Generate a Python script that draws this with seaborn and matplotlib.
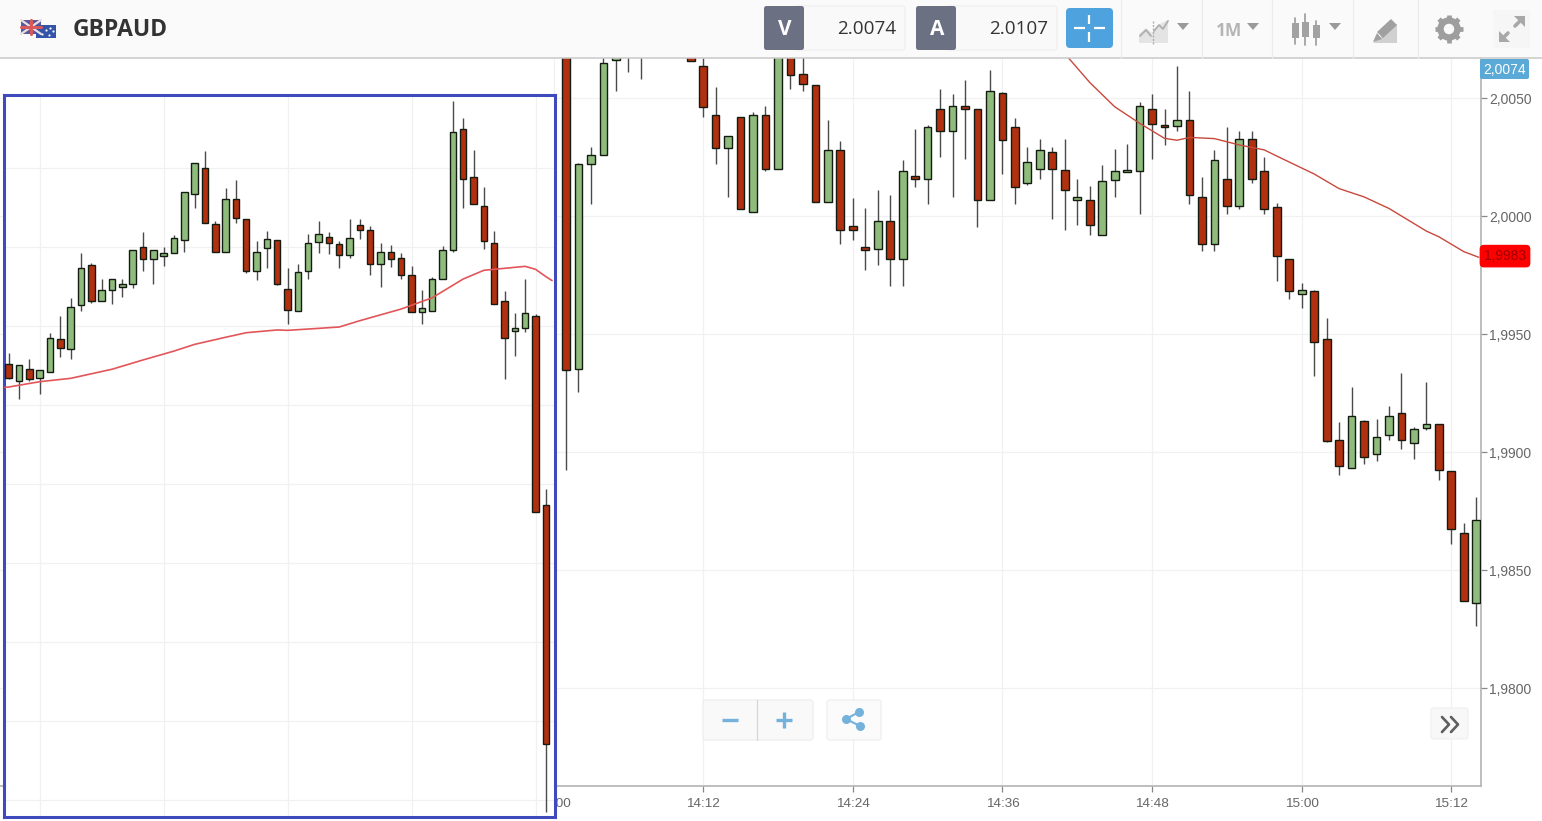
import numpy as np
import pandas as pd
import matplotlib
matplotlib.use("Agg")
import matplotlib.pyplot as plt
import seaborn as sns
from matplotlib.patches import FancyBboxPatch, Rectangle, Polygon, Circle

# left panel: one minute candles, 53 of them
left_open = [2.00208, 2.00123, 2.00181, 2.00137, 2.00167, 2.00336, 2.00282, 2.00505, 2.00707, 2.00528,
             2.00581, 2.00599, 2.00613, 2.00802, 2.00738, 2.00756, 2.00768, 2.00834, 2.01067, 2.01200,
             2.00916, 2.00775, 2.01041, 2.00942, 2.00680, 2.00793, 2.00834, 2.00587, 2.00478, 2.00680,
             2.00827, 2.00852, 2.00815, 2.00761, 2.00910, 2.00884, 2.00712, 2.00776, 2.00746, 2.00658,
             2.00473, 2.00478, 2.00636, 2.00786, 2.01396, 2.01156, 2.01009, 2.00822, 2.00525, 2.00376,
             2.00390, 2.00449, 1.99494]
left_high = [2.00262, 2.00201, 2.00231, 2.00177, 2.00363, 2.00452, 2.00540, 2.00768, 2.00721, 2.00636,
             2.00640, 2.00636, 2.00783, 2.00876, 2.00783, 2.00798, 2.00862, 2.01080, 2.01225, 2.01286,
             2.00933, 2.01097, 2.01141, 2.00942, 2.00832, 2.00883, 2.00837, 2.00692, 2.00712, 2.00864,
             2.00933, 2.00876, 2.00832, 2.00940, 2.00940, 2.00908, 2.00819, 2.00808, 2.00768, 2.00705,
             2.00581, 2.00650, 2.00807, 2.01539, 2.01451, 2.01293, 2.01102, 2.00883, 2.00579, 2.00466,
             2.00636, 2.00459, 1.99575]
left_low = [2.00133, 2.00030, 2.00122, 2.00056, 2.00167, 2.00245, 2.00233, 2.00474, 2.00515, 2.00528,
            2.00511, 2.00549, 2.00592, 2.00680, 2.00613, 2.00705, 2.00768, 2.00775, 2.00997, 2.00921,
            2.00775, 2.00775, 2.00921, 2.00667, 2.00631, 2.00694, 2.00606, 2.00410, 2.00478, 2.00638,
            2.00770, 2.00765, 2.00694, 2.00746, 2.00840, 2.00657, 2.00599, 2.00700, 2.00638, 2.00473,
            2.00410, 2.00478, 2.00636, 2.00776, 2.00997, 2.01016, 2.00788, 2.00511, 2.00132, 2.00250,
            2.00371, 1.99458, 1.97939]
left_close = [2.00138, 2.00201, 2.00130, 2.00177, 2.00341, 2.00289, 2.00498, 2.00694, 2.00528, 2.00582,
              2.00640, 2.00614, 2.00783, 2.00738, 2.00783, 2.00771, 2.00847, 2.01080, 2.01225, 2.00921,
              2.00775, 2.01041, 2.00947, 2.00680, 2.00776, 2.00840, 2.00611, 2.00479, 2.00675, 2.00822,
              2.00866, 2.00820, 2.00761, 2.00847, 2.00888, 2.00712, 2.00776, 2.00738, 2.00657, 2.00473,
              2.00493, 2.00640, 2.00783, 2.01384, 2.01143, 2.01019, 2.00832, 2.00511, 2.00339, 2.00392,
              2.00467, 1.99458, 1.98284]
left_ma_idx = [-0.4, 0, 3, 6, 10, 13, 16, 18, 21, 23, 26, 27, 30, 32, 34, 38, 41, 44, 46, 48, 50, 51, 52, 52.6]
left_ma = [2.00089, 2.00091, 2.00118, 2.00135, 2.00181, 2.00228, 2.00273, 2.00307, 2.00343, 2.00366, 2.00380,
           2.00378, 2.00388, 2.00395, 2.00427, 2.00486, 2.00543, 2.00638, 2.00682, 2.00692, 2.00702, 2.00687,
           2.00650, 2.00630]

# main panel: minutes after 14:01, 74 candles (the first few run off behind the header)
main_open = [2.00760, 1.99352, 2.00222, 2.00258, 2.00661, 2.00690, 2.00720, 2.00760, 2.00790, 2.00770,
             2.00690, 2.00636, 2.00429, 2.00290, 2.00419, 2.00018, 2.00429, 2.00201, 2.00700, 2.00600,
             2.00556, 2.00061, 2.00281, 1.99958, 1.99867, 1.99862, 1.99977, 1.99818, 2.00169, 2.00158,
             2.00455, 2.00359, 2.00466, 2.00455, 2.00068, 2.00520, 2.00376, 2.00141, 2.00201, 2.00270,
             2.00196, 2.00068, 2.00068, 1.99920, 2.00153, 2.00185, 2.00189, 2.00455, 2.00387, 2.00380,
             2.00408, 2.00079, 1.99883, 2.00158, 2.00041, 2.00328, 2.00191, 2.00037, 1.99819, 1.99671,
             1.99682, 1.99480, 1.99051, 1.98932, 1.99130, 1.98992, 1.99071, 1.99167, 1.99040, 1.99103,
             1.99119, 1.98918, 1.98657, 1.98360]
main_high = [2.00790, 2.00226, 2.00294, 2.00690, 2.00740, 2.00780, 2.00800, 2.00820, 2.00850, 2.00810,
             2.00720, 2.00668, 2.00545, 2.00339, 2.00419, 2.00439, 2.00466, 2.00720, 2.00740, 2.00680,
             2.00556, 2.00407, 2.00316, 2.00078, 2.00035, 2.00109, 2.00088, 2.00236, 2.00369, 2.00384,
             2.00538, 2.00517, 2.00575, 2.00455, 2.00617, 2.00527, 2.00417, 2.00294, 2.00326, 2.00294,
             2.00326, 2.00155, 2.00126, 2.00215, 2.00284, 2.00305, 2.00484, 2.00517, 2.00452, 2.00634,
             2.00528, 2.00167, 2.00280, 2.00376, 2.00359, 2.00359, 2.00249, 2.00056, 1.99819, 1.99718,
             1.99686, 1.99569, 1.99129, 1.99277, 1.99136, 1.99138, 1.99196, 1.99336, 1.99107, 1.99298,
             1.99119, 1.98918, 1.98699, 1.98809]
main_low = [1.98924, 1.99254, 2.00052, 2.00258, 2.00530, 2.00609, 2.00582, 2.00700, 2.00720, 2.00700,
            2.00658, 2.00418, 2.00222, 2.00079, 2.00030, 2.00018, 2.00192, 2.00201, 2.00539, 2.00530,
            2.00061, 2.00061, 1.99883, 1.99898, 1.99771, 1.99792, 1.99703, 1.99703, 2.00121, 2.00052,
            2.00249, 2.00079, 2.00243, 1.99952, 2.00068, 2.00179, 2.00052, 2.00133, 2.00158, 1.99989,
            1.99941, 1.99962, 1.99920, 1.99920, 2.00079, 2.00185, 2.00010, 2.00243, 2.00301, 2.00359,
            2.00052, 1.99852, 1.99852, 2.00010, 2.00031, 2.00141, 2.00010, 1.99725, 1.99650, 1.99612,
            1.99321, 1.99041, 1.98901, 1.98932, 1.98949, 1.98961, 1.99051, 1.99013, 1.98970, 1.99093,
            1.98880, 1.98609, 1.98370, 1.98264]
main_close = [1.99348, 2.00220, 2.00260, 2.00647, 2.00700, 2.00730, 2.00750, 2.00790, 2.00770, 2.00740,
              2.00658, 2.00460, 2.00290, 2.00339, 2.00030, 2.00429, 2.00199, 2.00700, 2.00597, 2.00561,
              2.00061, 2.00281, 1.99941, 1.99939, 1.99856, 1.99977, 1.99818, 2.00191, 2.00158, 2.00376,
              2.00359, 2.00466, 2.00455, 2.00068, 2.00530, 2.00323, 2.00121, 2.00227, 2.00281, 2.00201,
              2.00110, 2.00079, 1.99962, 2.00147, 2.00191, 2.00196, 2.00466, 2.00391, 2.00376, 2.00408,
              2.00089, 1.99883, 2.00239, 2.00041, 2.00328, 2.00158, 2.00031, 1.99829, 1.99681, 1.99686,
              1.99468, 1.99047, 1.98942, 1.99151, 1.98980, 1.99062, 1.99151, 1.99050, 1.99098, 1.99119,
              1.98922, 1.98672, 1.98370, 1.98711]
main_ma_min = [41, 43, 45, 47, 49, 50, 51, 53, 55, 57, 58, 61, 63, 65, 67, 70, 71, 73, 74.2]
main_ma = [2.00688, 2.00566, 2.00463, 2.00393, 2.00329, 2.00321, 2.00333, 2.00328, 2.00301, 2.00280, 2.00254,
           2.00178, 2.00116, 2.00081, 2.00032, 1.99936, 1.99912, 1.99849, 1.99825]

price_ticks = [1.98, 1.985, 1.99, 1.995, 2.0, 2.005]
time_ticks = [0, 12, 24, 36, 48, 60, 72]
time_labels = ["14:00", "14:12", "14:24", "14:36", "14:48", "15:00", "15:12"]

W, H = 1542, 821
RED = "#b0300f"
GREEN = "#8fbc7c"
EDGE = "#141c12"
WICK = "#4a4a4a"
GRID = "#f1f1f1"
AXIS = "#b3b3b3"
FONT = ["Liberation Sans", "DejaVu Sans"]

sns.set_theme(style="white")
plt.rcParams["font.family"] = FONT


def px_axes(fig, left, top, right, bottom, **kw):
    return fig.add_axes([left / W, 1 - bottom / H, (right - left) / W, (bottom - top) / H], **kw)


def draw_candles(ax, x, o, h, l, c, width):
    df = pd.DataFrame({"x": x, "open": o, "high": h, "low": l, "close": c})
    up = df["close"] >= df["open"]
    ax.vlines(df["x"], df["low"], df["high"], color=WICK, lw=1.0, zorder=3)
    bottom = df[["open", "close"]].min(axis=1)
    height = (df["close"] - df["open"]).abs()
    ax.bar(df["x"], height, bottom=bottom, width=width, color=np.where(up, GREEN, RED),
           edgecolor=EDGE, linewidth=1.0, zorder=4)


def draw_ma(ax, x, y, color, lw=1.0):
    ma = pd.DataFrame({"x": x, "y": y})
    sns.lineplot(data=ma, x="x", y="y", ax=ax, color=color, lw=lw, errorbar=None, sort=False, zorder=5)
    ax.set_xlabel("")
    ax.set_ylabel("")


fig = plt.figure(figsize=(W / 100, H / 100), dpi=100, facecolor="white")

# main chart, covers the whole width, left panel sits on top of it
ax = px_axes(fig, 0, 58, 1481, 785.5, zorder=1)
main_x = np.arange(len(main_open)) + 1
draw_candles(ax, main_x, main_open, main_high, main_low, main_close, 0.62)
draw_ma(ax, main_ma_min, main_ma, "#c9483c")
ax.set_yticks(price_ticks)
ax.set_xticks(time_ticks)
ax.set_xlim((0 - 553.5) / 12.47, (1481 - 553.5) / 12.47)
ax.set_ylim(2.0 - (785.5 - 216) / 23600, 2.0 + (216 - 58) / 23600)
ax.yaxis.tick_right()
ax.set_yticklabels([f"{p:.4f}".replace(".", ",") for p in price_ticks])
ax.set_xticklabels(time_labels)
ax.tick_params(axis="both", length=4.5, width=0.9, color="#888888", labelcolor="#666666", labelsize=9.7,
               bottom=True, right=True)
ax.tick_params(axis="x", pad=4.2)
ax.tick_params(axis="y", pad=1.5, labelsize=10)
ax.grid(True, color=GRID, lw=0.9)
ax.set_axisbelow(True)
for side in ["top", "left"]:
    ax.spines[side].set_visible(False)
for side in ["right", "bottom"]:
    ax.spines[side].set_color(AXIS)
    ax.spines[side].set_linewidth(1.2)

ax.annotate("1,9983", (1, 1.9983), xycoords=("axes fraction", "data"), xytext=(24, 0),
            textcoords="offset pixels", ha="center", va="center", fontsize=10, color="#a00000", zorder=8,
            bbox=dict(boxstyle="round,pad=0.26", fc="#ff0000", ec="#ff0000"), annotation_clip=False)

# left panel with the blue frame
ax2 = px_axes(fig, 3.8, 94.8, 554.8, 817, zorder=2)
left_x = np.arange(len(left_open))
draw_candles(ax2, left_x, left_open, left_high, left_low, left_close, 0.62)
draw_ma(ax2, left_ma_idx, left_ma, "#e2565a", lw=1.2)
ax2.set_xticks(np.arange(3, 53, 12))
ax2.set_yticks(np.arange(1.98, 2.0125, 0.004))
ax2.set_xlim((3.8 - 8.7) / 10.33, (554.8 - 8.7) / 10.33)
ax2.set_ylim(2.0 - (817 - 405) * 5.063e-5, 2.0 + (405 - 94.8) * 5.063e-5)
ax2.tick_params(length=0, labelbottom=False, labelleft=False)
ax2.grid(True, color=GRID, lw=0.9)
ax2.set_axisbelow(True)
ax2.set_facecolor("white")
for s in ax2.spines.values():
    s.set_color("#3f4bbd")
    s.set_linewidth(2.2)

# overlay in pixel coordinates for the platform toolbar and buttons
ui = px_axes(fig, 0, 0, W, H, zorder=5)
ui.set_xlim(0, W)
ui.set_ylim(H, 0)
ui.axis("off")
ui.patch.set_alpha(0)

ui.add_patch(Rectangle((0, 0), W, 58, fc="#fafafa", ec="none"))
ui.plot([0, W], [58.5, 58.5], color="#c9c9c9", lw=1.1)
for sx in [1121, 1202, 1272, 1353, 1418]:
    ui.plot([sx, sx], [0, 58], color="#ececec", lw=0.9)


def box(x0, y0, x1, y1, fc, ec="none", r=2.5, lw=0.8, **kw):
    ui.add_patch(FancyBboxPatch((x0 + r, y0 + r), x1 - x0 - 2 * r, y1 - y0 - 2 * r,
                                boxstyle=f"round,pad={r},rounding_size={r}", fc=fc, ec=ec, lw=lw, **kw))


# flags
ui.add_patch(Rectangle((21, 20), 20, 14, fc="#5a5a9a", ec="none"))
ui.plot([21, 41], [20, 34], color="#e8dfe4", lw=1.6)
ui.plot([21, 41], [34, 20], color="#e8dfe4", lw=1.6)
ui.plot([31, 31], [20, 34], color="#d9585a", lw=2.2)
ui.plot([21, 41], [27, 27], color="#d9585a", lw=2.2)
ui.add_patch(Rectangle((36, 25), 20, 13, fc="#3354a8", ec="none"))
ui.scatter([42, 50, 53, 49, 46], [34, 28, 31, 35, 30], s=2.5, color="white", lw=0)
ui.text(73, 30.5, "GBPAUD", fontsize=16.5, fontweight="bold", family=["Open Sans", "DejaVu Sans"],
        color="#333333", va="center", ha="left")

# sell / buy quotes
for x0, label, val in [(764, "V", "2.0074"), (916, "A", "2.0107")]:
    box(x0 + 30, 6, x0 + 141, 50, "#f9f9f9", ec="#eeeeee")
    box(x0, 6, x0 + 40, 50, "#6b7083")
    ui.text(x0 + 21, 29.5, label, fontsize=15, fontweight="bold", color="white", ha="center", va="center",
            family=["Open Sans", "DejaVu Sans"])
    ui.text(x0 + 132, 29, val, fontsize=13.6, color="#333333", ha="right", va="center",
            family=["Open Sans", "DejaVu Sans"])

# crosshair button
box(1066, 8, 1113, 48, "#4ea3df", r=4)
for seg in [((1089, 1089), (15, 24)), ((1089, 1089), (32, 42)), ((1074, 1085), (28, 28)), ((1094, 1105), (28, 28))]:
    ui.plot(*seg, color="white", lw=1.6, solid_capstyle="butt")

ICON = "#aeaeae"
for tx in [1183, 1253, 1335]:
    ui.add_patch(Polygon([(tx - 6, 23), (tx + 6, 23), (tx, 30)], fc="#9a9a9a", ec="none"))
# chart type icon
ui.add_patch(Polygon([(1139, 43), (1139, 34), (1146, 28), (1152, 33), (1160, 24), (1168, 20), (1168, 43)],
                     fc="#e4e4e4", ec="none"))
ui.plot([1140, 1146, 1151], [36, 30, 36], color=ICON, lw=1.3)
ui.plot([1154, 1159, 1163, 1168], [31, 25, 29, 21], color=ICON, lw=1.3)
ui.plot([1152.5, 1152.5], [21, 44], color=ICON, lw=1, ls=(0, (1.5, 1)))
ui.text(1229, 30.5, "1M", fontsize=12.5, fontweight="bold", color="#b5b5b5", ha="center", va="center",
        family=["Open Sans", "DejaVu Sans"])
# candle icon
for cx, t0, t1, b0, b1 in [(1295, 18, 44, 23, 38), (1305, 14, 45, 22, 37), (1316, 21, 45, 25, 38)]:
    ui.plot([cx, cx], [t0, t1], color="#a2a2a2", lw=1.3)
    ui.add_patch(Rectangle((cx - 3.5, b0), 7, b1 - b0, fc="#a2a2a2", ec="none"))
# draw icon
ui.add_patch(Polygon([(1373, 43), (1397, 43), (1397, 24)], fc="#d0d0d0", ec="none"))
ui.add_patch(Polygon([(1377, 32), (1391, 19), (1397, 25), (1383, 38)], fc="#a0a0a0", ec="none"))
ui.add_patch(Polygon([(1377, 33), (1382, 39), (1373, 42)], fc="#a0a0a0", ec="none"))
# gear
ui.add_patch(Circle((1449, 29), 8.5, fc="none", ec="#9e9e9e", lw=4.6))
for ang in np.arange(0, 360, 45):
    a = np.deg2rad(ang)
    ui.plot([1449 + 10 * np.cos(a), 1449 + 14 * np.cos(a)], [29 + 10 * np.sin(a), 29 + 14 * np.sin(a)],
            color="#9e9e9e", lw=3.4, solid_capstyle="butt")
# expand
box(1493, 10, 1530, 48, "#f6f6f6", r=1)
ui.plot([1502, 1508], [39, 33], color="#a8a8a8", lw=2.6)
ui.plot([1515, 1521], [26, 20], color="#a8a8a8", lw=2.6)
ui.add_patch(Polygon([(1499, 42), (1499, 31), (1510, 42)], fc="#a8a8a8", ec="none"))
ui.add_patch(Polygon([(1525, 16), (1525, 27), (1514, 16)], fc="#a8a8a8", ec="none"))

# current price tag, it stays at the top edge of the chart
box(1480, 59, 1529, 79, "#5aa9d6", r=2)
ui.text(1505, 69.5, "2,0074", fontsize=10, color="white", ha="center", va="center")

# zoom, share and scroll buttons
box(703, 700, 813, 740, "#f9f9f9", ec="#ececec")
ui.plot([757, 757], [700, 740], color="#d5d5d5", lw=0.9)
box(827, 700, 881, 740, "#fbfbfb", ec="#ececec")
ui.plot([722, 738], [720, 720], color="#74b1db", lw=2.4, solid_capstyle="butt")
ui.plot([776, 792], [720, 720], color="#74b1db", lw=2.4, solid_capstyle="butt")
ui.plot([784, 784], [712, 728], color="#74b1db", lw=2.4, solid_capstyle="butt")
ui.plot([859, 846, 860], [712, 719, 726], color="#74b1db", lw=1.5)
ui.scatter([859, 846, 860], [712, 719, 726], s=42, color="#74b1db", lw=0, zorder=6)
box(1431, 708, 1468, 739, "#f8f8f8", ec="#efefef")
for dx in [0, 9]:
    ui.plot([1442 + dx, 1449 + dx, 1442 + dx], [717, 724.5, 732], color="#5f5f5f", lw=1.9)

fig.savefig("out.png", dpi=100, facecolor="white")
